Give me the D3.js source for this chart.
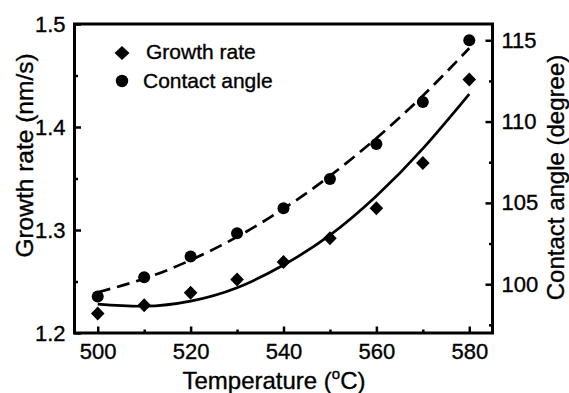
<!DOCTYPE html>
<html>
<head>
<meta charset="utf-8">
<script src="https://cdn.jsdelivr.net/npm/d3@7"></script>
<style>
  body { margin: 0; background: #fff; }
  text { font-family: "Liberation Sans", Arial, sans-serif; fill: #000; stroke: #000; stroke-width: 0.35; }
</style>
</head>
<body>
<svg width="569" height="393"></svg>
<script>
// data
var temps = [500, 510, 520, 530, 540, 550, 560, 570, 580]
var growthRate = [1.219, 1.227, 1.239, 1.252, 1.269, 1.292, 1.321, 1.365, 1.446]
var contactAngle = [99.24, 100.43, 101.70, 103.13, 104.67, 106.47, 108.62, 111.2, 115.0]
// fitted curves as drawn in the figure
var growthFit = [1.228, 1.226, 1.231, 1.244, 1.266, 1.295, 1.333, 1.379, 1.432]
var angleFit = [99.50, 100.34, 101.48, 102.91, 104.64, 106.66, 108.98, 111.59, 114.51]

var xTicks = [500, 520, 540, 560, 580]
var xMinor = [510, 530, 550, 570]
var yLeftTicks = [1.2, 1.3, 1.4, 1.5]
var yLeftMinor = [1.25, 1.35, 1.45]
var yRightTicks = [100, 105, 110, 115]
var yRightMinor = [97.5, 102.5, 107.5, 112.5]

var plotL = 74.5, plotR = 492.5, plotT = 24, plotB = 333

var svg = d3.select("svg")

var x = d3.scaleLinear().domain([495, 585]).range([plotL, plotR])
var yL = d3.scaleLinear().domain([1.2, 1.5]).range([plotB, plotT])
var yR = d3.scaleLinear().domain([97, 116]).range([plotB, plotT])

function styleAxis(g) {
    g.select(".domain").remove()
    g.selectAll("line").attr("stroke", "#000").attr("stroke-width", 2.5)
    g.selectAll("text").attr("font-size", 22).attr("font-family", null)
}

// x axis
svg.append("g").attr("transform", `translate(0,${plotB})`)
    .call(d3.axisBottom(x).tickValues(xTicks).tickSize(-6.5).tickPadding(10).tickFormat(d3.format("d")))
    .call(styleAxis)
svg.append("g").attr("transform", `translate(0,${plotB})`)
    .call(d3.axisBottom(x).tickValues(xMinor).tickSize(-3.5).tickFormat(""))
    .call(styleAxis)

// left axis
svg.append("g").attr("transform", `translate(${plotL},0)`)
    .call(d3.axisLeft(yL).tickValues(yLeftTicks).tickSize(-6.5).tickPadding(9).tickFormat(d3.format(".1f")))
    .call(styleAxis)
svg.append("g").attr("transform", `translate(${plotL},0)`)
    .call(d3.axisLeft(yL).tickValues(yLeftMinor).tickSize(-3.5).tickFormat(""))
    .call(styleAxis)

// right axis
svg.append("g").attr("transform", `translate(${plotR},0)`)
    .call(d3.axisRight(yR).tickValues(yRightTicks).tickSize(-7).tickPadding(9).tickFormat(d3.format("d")))
    .call(styleAxis)
svg.append("g").attr("transform", `translate(${plotR},0)`)
    .call(d3.axisRight(yR).tickValues(yRightMinor).tickSize(-3.5).tickFormat(""))
    .call(styleAxis)

// frame
svg.append("rect")
    .attr("x", plotL).attr("y", plotT)
    .attr("width", plotR - plotL).attr("height", plotB - plotT)
    .attr("fill", "none").attr("stroke", "#000").attr("stroke-width", 3)

// fit lines
var lineL = d3.line().x((d, i) => x(temps[i])).y(d => yL(d)).curve(d3.curveNatural)
var lineR = d3.line().x((d, i) => x(temps[i])).y(d => yR(d)).curve(d3.curveNatural)

svg.append("path").attr("d", lineL(growthFit))
    .attr("fill", "none").attr("stroke", "#000").attr("stroke-width", 2.7)
svg.append("path").attr("d", lineR(angleFit))
    .attr("fill", "none").attr("stroke", "#000").attr("stroke-width", 2.7)
    .attr("stroke-dasharray", "13,7")

// markers
var diamond = "M0,-7 L6.8,0 L0,7 L-6.8,0 Z"

svg.append("g").selectAll("path")
    .data(growthRate)
    .enter()
    .append("path")
    .attr("d", diamond)
    .attr("transform", (d, i) => `translate(${x(temps[i])},${yL(d)})`)
    .attr("fill", "#000")

svg.append("g").selectAll("circle")
    .data(contactAngle)
    .enter()
    .append("circle")
    .attr("cx", (d, i) => x(temps[i]))
    .attr("cy", d => yR(d))
    .attr("r", 6)
    .attr("fill", "#000")

// legend
svg.append("path").attr("d", "M0,-7 L7.5,0 L0,7 L-7.5,0 Z")
    .attr("transform", "translate(122,53)").attr("fill", "#000")
svg.append("circle").attr("cx", 122).attr("cy", 81).attr("r", 6.2).attr("fill", "#000")
svg.append("text").attr("x", 146).attr("y", 58.5).attr("font-size", 21).text("Growth rate")
svg.append("text").attr("x", 143).attr("y", 87.5).attr("font-size", 21).text("Contact angle")

// axis titles
var xt = svg.append("text").attr("x", 274).attr("y", 388.5)
    .attr("text-anchor", "middle").attr("font-size", 24)
xt.append("tspan").text("Temperature (")
xt.append("tspan").attr("font-size", 15).attr("dy", -10).text("o")
xt.append("tspan").attr("dy", 10).text("C)")

svg.append("text")
    .attr("transform", "translate(33,155.5) rotate(-90)")
    .attr("text-anchor", "middle").attr("font-size", 24.5)
    .text("Growth rate (nm/s)")

svg.append("text")
    .attr("transform", "translate(564,177.5) rotate(-90)")
    .attr("text-anchor", "middle").attr("font-size", 24)
    .text("Contact angle (degree)")
</script>
</body>
</html>
